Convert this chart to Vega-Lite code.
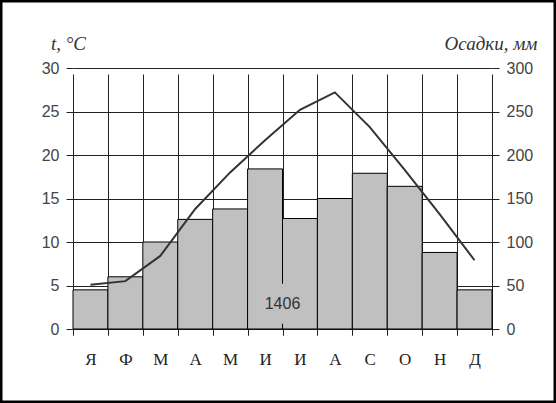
{
  "$schema": "https://vega.github.io/schema/vega-lite/v6.json",
  "width": 556,
  "height": 403,
  "autosize": "none",
  "padding": 0,
  "background": "white",
  "config": {
    "view": {"stroke": "black", "strokeWidth": 5, "fill": "white"},
    "axis": {
      "labelFont": "Liberation Sans",
      "labelFontSize": 16,
      "labelFontWeight": "normal",
      "labelColor": "#444",
      "tickColor": "#222",
      "gridColor": "#222",
      "gridOpacity": 1,
      "gridWidth": 1,
      "domain": false
    }
  },
  "data": {
    "values": [
      {"month": "Январь", "precip": 45, "temp": 5.1},
      {"month": "Февраль", "precip": 60, "temp": 5.5},
      {"month": "Март", "precip": 100, "temp": 8.4},
      {"month": "Апрель", "precip": 126, "temp": 13.8},
      {"month": "Май", "precip": 138, "temp": 18.0},
      {"month": "Июнь", "precip": 184, "temp": 21.7},
      {"month": "Июль", "precip": 127, "temp": 25.2},
      {"month": "Август", "precip": 150, "temp": 27.2},
      {"month": "Сентябрь", "precip": 179, "temp": 23.2},
      {"month": "Октябрь", "precip": 164, "temp": 18.3},
      {"month": "Ноябрь", "precip": 88, "temp": 13.2},
      {"month": "Декабрь", "precip": 45, "temp": 7.9}
    ]
  },
  "encoding": {
    "x": {
      "field": "month",
      "type": "nominal",
      "sort": null,
      "scale": {"range": [73, 492], "paddingInner": 0, "paddingOuter": 0},
      "axis": {
        "orient": "bottom",
        "offset": -74,
        "title": null,
        "tickBand": "extent",
        "grid": true,
        "tickSize": 6,
        "labelAngle": 0,
        "labelExpr": "slice(datum.label, 0, 1)",
        "labelFont": "Liberation Serif",
        "labelFontSize": 17,
        "labelColor": "#222",
        "labelPadding": 16
      }
    }
  },
  "layer": [
    {
      "encoding": {
        "y": {
          "field": "precip",
          "type": "quantitative",
          "scale": {"domain": [0, 300], "range": [329, 68], "nice": false},
          "axis": {
            "orient": "right",
            "offset": -64,
            "values": [0, 50, 100, 150, 200, 250, 300],
            "grid": false,
            "tickSize": 7,
            "labelPadding": 7,
            "title": "Осадки, мм",
            "titleFont": "Liberation Serif",
            "titleFontStyle": "italic",
            "titleFontWeight": "normal",
            "titleFontSize": 19,
            "titleColor": "#333",
            "titleAngle": 0,
            "titleAlign": "right",
            "titleBaseline": "middle",
            "titleX": 45,
            "titleY": 43
          }
        }
      },
      "layer": [
        {"mark": {"type": "bar", "fill": "#c0c0c0", "stroke": "black", "strokeWidth": 1}},
        {
          "transform": [{"filter": "datum.month === 'Июнь'"}],
          "mark": {"type": "rule", "color": "#c0c0c0", "strokeWidth": 3},
          "encoding": {
            "x": {"field": "month", "type": "nominal", "bandPosition": 1},
            "y": {"datum": 6},
            "y2": {"datum": 52}
          }
        },
        {
          "transform": [{"filter": "datum.month === 'Июнь'"}],
          "mark": {"type": "text", "font": "Liberation Sans", "fontSize": 16, "fontWeight": "normal", "fill": "#333"},
          "encoding": {
            "x": {"field": "month", "type": "nominal", "bandPosition": 1},
            "y": {"datum": 29},
            "text": {"value": "1406"}
          }
        }
      ]
    },
    {
      "mark": {"type": "line", "color": "#333", "strokeWidth": 2},
      "encoding": {
        "y": {
          "field": "temp",
          "type": "quantitative",
          "scale": {"domain": [0, 30], "range": [329, 68], "nice": false},
          "axis": {
            "orient": "left",
            "offset": -73,
            "values": [0, 5, 10, 15, 20, 25, 30],
            "grid": true,
            "tickSize": 7,
            "labelPadding": 7,
            "title": "t, °C",
            "titleFont": "Liberation Serif",
            "titleFontStyle": "italic",
            "titleFontWeight": "normal",
            "titleFontSize": 19,
            "titleColor": "#333",
            "titleAngle": 0,
            "titleAlign": "center",
            "titleBaseline": "middle",
            "titleX": -5,
            "titleY": 43
          }
        }
      }
    }
  ],
  "resolve": {"scale": {"y": "independent"}, "axis": {"y": "independent"}}
}
